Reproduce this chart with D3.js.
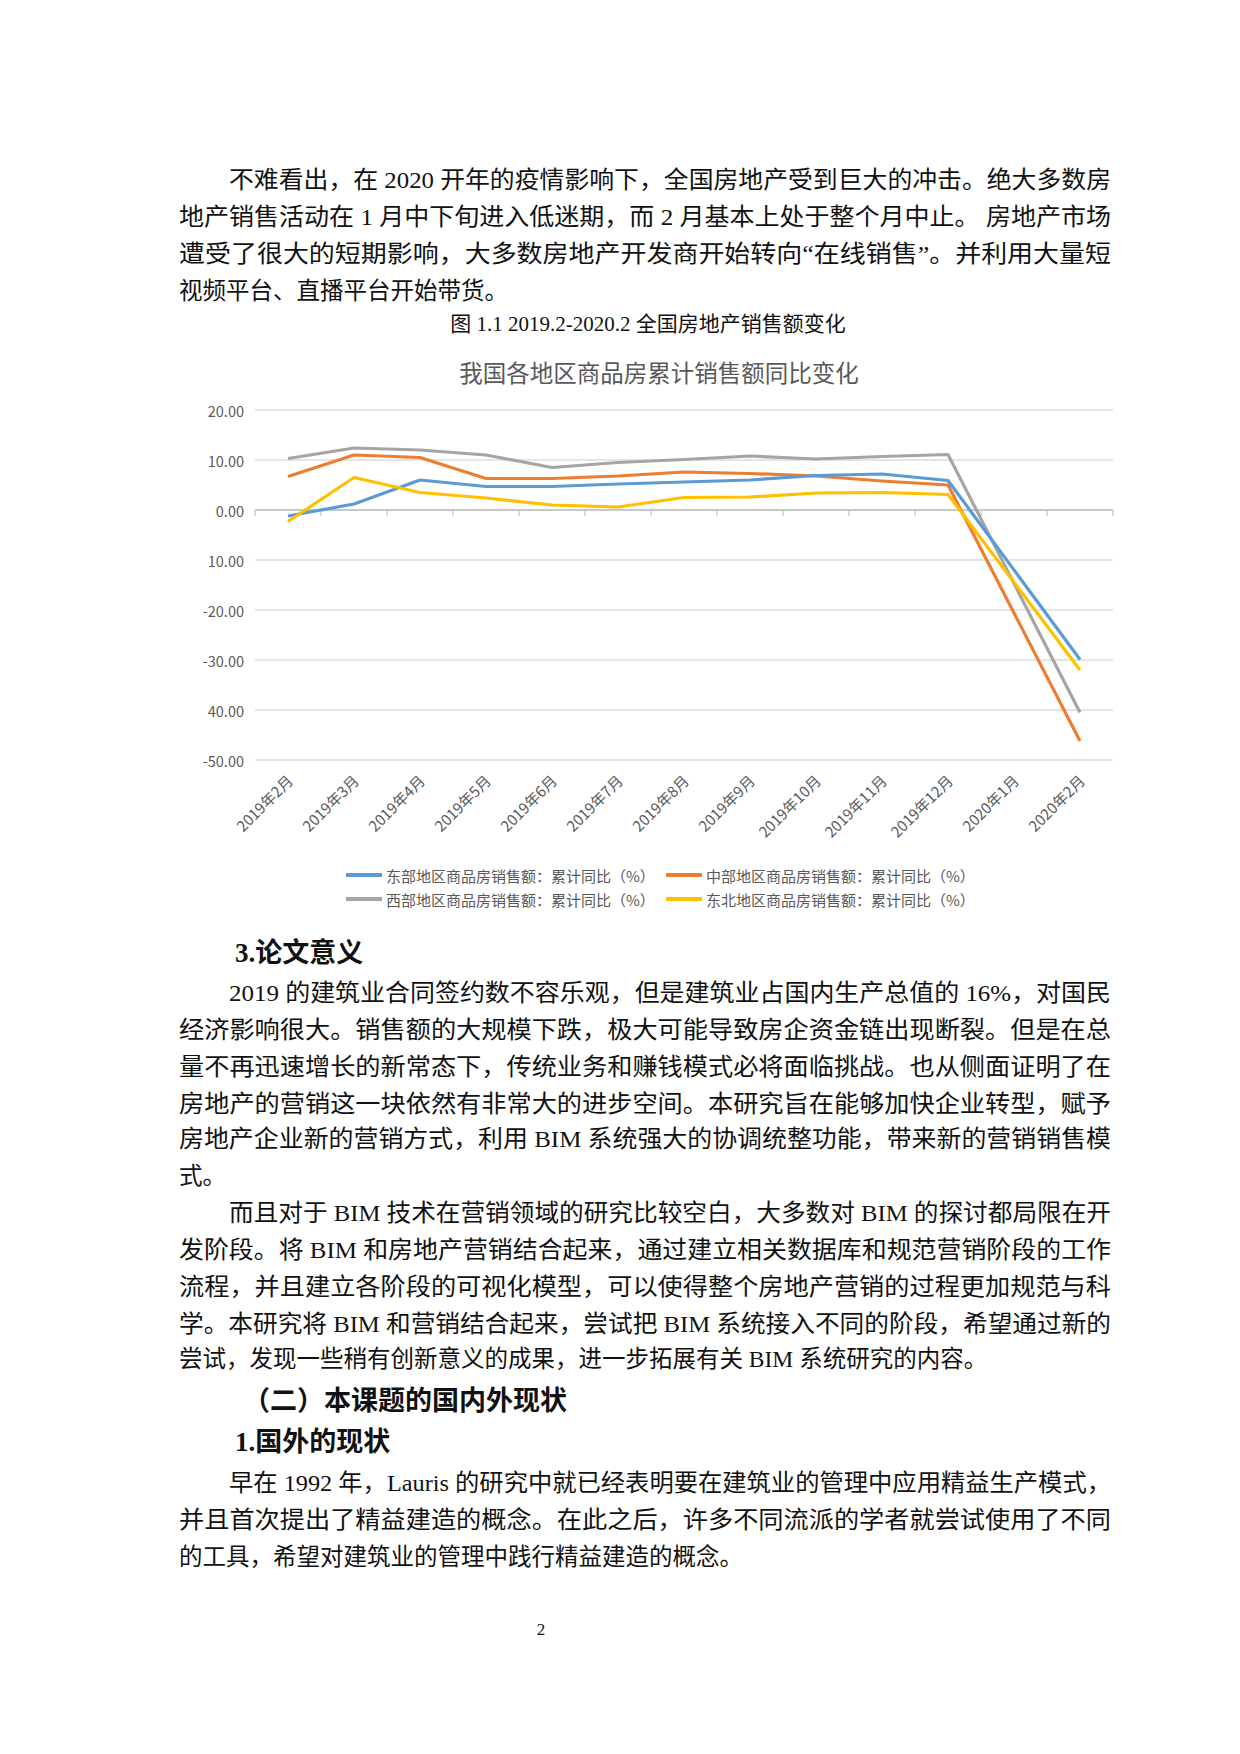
<!DOCTYPE html>
<html><head><meta charset="utf-8">
<script src="https://cdn.jsdelivr.net/npm/d3@7"></script>
<style>body{margin:0;background:#fff}</style></head>
<body><svg id="pg" width="1240" height="1754"></svg>
<script>
const categories=["2019年2月","2019年3月","2019年4月","2019年5月","2019年6月","2019年7月","2019年8月","2019年9月","2019年10月","2019年11月","2019年12月","2020年1月","2020年2月"];
const east=[-1.2,1.2,6.0,4.7,4.7,5.2,5.6,6.0,6.9,7.2,5.9,null,-29.9];
const central=[6.7,11.0,10.5,6.3,6.3,6.8,7.6,7.3,6.8,5.8,5.0,null,-46.2];
const west=[10.3,12.4,12.0,11.0,8.5,9.5,10.1,10.8,10.2,10.7,11.1,null,-40.5];
const northeast=[-2.3,6.5,3.5,2.4,1.0,0.6,2.5,2.6,3.4,3.5,3.1,null,-32.0];
const seriesNames=["东部地区商品房销售额：累计同比（%）","中部地区商品房销售额：累计同比（%）","西部地区商品房销售额：累计同比（%）","东北地区商品房销售额：累计同比（%）"];
const yTicks=[20,10,0,-10,-20,-30,-40,-50];
const yTickLabels=["20.00","10.00","0.00","10.00","-20.00","-30.00","40.00","-50.00"];

const svg=d3.select("#pg");
const serif="'Liberation Serif','Noto Sans CJK SC',serif";
const sans="'Noto Sans CJK SC',sans-serif";
function line(x,y,t,opt={}){
  const e=svg.append("text").attr("x",x).attr("y",y).attr("dominant-baseline","central")
   .attr("font-family",serif).attr("font-size",opt.size||23.5).attr("fill","#111").text(t);
  if(opt.bold)e.attr("font-weight","bold");
  if(opt.w)e.attr("textLength",opt.w).attr("lengthAdjust","spacingAndGlyphs");
  if(opt.anchor)e.attr("text-anchor",opt.anchor);
}
const R=1111;
line(229,180,"不难看出，在 2020 开年的疫情影响下，全国房地产受到巨大的冲击。绝大多数房",{w:R-229});
line(179,217,"地产销售活动在 1 月中下旬进入低迷期，而 2 月基本上处于整个月中止。 房地产市场",{w:R-179});
line(179,254,"遭受了很大的短期影响，大多数房地产开发商开始转向“在线销售”。并利用大量短",{w:R-179});
line(179,291,"视频平台、直播平台开始带货。");
line(648,324,"图 1.1   2019.2-2020.2 全国房地产销售额变化",{size:21,anchor:"middle"});

line(235,953,"3.论文意义",{size:27,bold:true});
line(229,993,"2019 的建筑业合同签约数不容乐观，但是建筑业占国内生产总值的 16%，对国民",{w:R-229});
line(179,1030,"经济影响很大。销售额的大规模下跌，极大可能导致房企资金链出现断裂。但是在总",{w:R-179});
line(179,1067,"量不再迅速增长的新常态下，传统业务和赚钱模式必将面临挑战。也从侧面证明了在",{w:R-179});
line(179,1104,"房地产的营销这一块依然有非常大的进步空间。本研究旨在能够加快企业转型，赋予",{w:R-179});
line(179,1139,"房地产企业新的营销方式，利用 BIM 系统强大的协调统整功能，带来新的营销销售模",{w:R-179});
line(179,1176,"式。");
line(229,1213,"而且对于 BIM 技术在营销领域的研究比较空白，大多数对 BIM 的探讨都局限在开",{w:R-229});
line(179,1250,"发阶段。将 BIM 和房地产营销结合起来，通过建立相关数据库和规范营销阶段的工作",{w:R-179});
line(179,1287,"流程，并且建立各阶段的可视化模型，可以使得整个房地产营销的过程更加规范与科",{w:R-179});
line(179,1324,"学。本研究将 BIM 和营销结合起来，尝试把 BIM 系统接入不同的阶段，希望通过新的",{w:R-179});
line(179,1359,"尝试，发现一些稍有创新意义的成果，进一步拓展有关 BIM 系统研究的内容。");
line(243,1401,"（二）本课题的国内外现状",{size:27,bold:true});
line(235,1442,"1.国外的现状",{size:27,bold:true});
line(229,1483,"早在 1992 年，Lauris 的研究中就已经表明要在建筑业的管理中应用精益生产模式，",{w:R-229});
line(179,1520,"并且首次提出了精益建造的概念。在此之后，许多不同流派的学者就尝试使用了不同",{w:R-179});
line(179,1557,"的工具，希望对建筑业的管理中践行精益建造的概念。");
line(541,1629,"2",{size:17,anchor:"middle"});

// chart
svg.append("text").attr("x",659).attr("y",372).attr("text-anchor","middle").attr("dominant-baseline","central")
 .attr("font-family",sans).attr("font-size",23.5).attr("fill","#595959").text("我国各地区商品房累计销售额同比变化");
const x=d3.scaleBand().domain(categories).range([255,1113]);
const y=d3.scaleLinear().domain([-50,20]).range([760,410]);
const g=svg.append("g");
yTicks.forEach((t,i)=>{
  g.append("line").attr("x1",255).attr("x2",1113).attr("y1",y(t)).attr("y2",y(t))
   .attr("stroke",t===0?"#c8c8c8":"#dcdcdc").attr("stroke-width",t===0?2:1.3);
  g.append("text").attr("x",244).attr("y",y(t)).attr("text-anchor","end").attr("dominant-baseline","central")
   .attr("font-family",sans).attr("font-size",14.5).attr("fill","#595959").text(yTickLabels[i]);
});
d3.range(categories.length+1).forEach(i=>{
  const xx=255+i*x.step();
  g.append("line").attr("x1",xx).attr("x2",xx).attr("y1",y(0)).attr("y2",y(0)+6).attr("stroke","#c8c8c8").attr("stroke-width",1.3);
});
categories.forEach(c=>{
  const cx=x(c)+x.bandwidth()/2+6, cy=782;
  g.append("text").attr("transform",`translate(${cx},${cy}) rotate(-45)`).attr("text-anchor","end")
   .attr("font-family",sans).attr("font-size",15).attr("fill","#595959").text(c);
});
const colors=["#5b9bd5","#ed7d31","#a5a5a5","#ffc000"];
const data=[east,central,west,northeast];
const lg=d3.line().defined(d=>d[1]!=null).x(d=>x(d[0])+x.bandwidth()/2).y(d=>y(d[1]));
[2,1,0,3].forEach(k=>{
  const pts=categories.map((c,i)=>[c,data[k][i]]).filter(d=>d[1]!=null);
  g.append("path").attr("d",lg(pts)).attr("fill","none").attr("stroke",colors[k]).attr("stroke-width",3.2).attr("stroke-linejoin","round");
});
const legPos=[[346,875],[666,875],[346,899],[666,899]];
seriesNames.forEach((n,k)=>{
  const [lx,ly]=legPos[k];
  g.append("line").attr("x1",lx).attr("x2",lx+36).attr("y1",ly).attr("y2",ly).attr("stroke",colors[k]).attr("stroke-width",4);
  g.append("text").attr("x",lx+40).attr("y",ly).attr("dominant-baseline","central")
   .attr("font-family",sans).attr("font-size",15).attr("fill","#595959").text(n);
});
</script></body></html>
